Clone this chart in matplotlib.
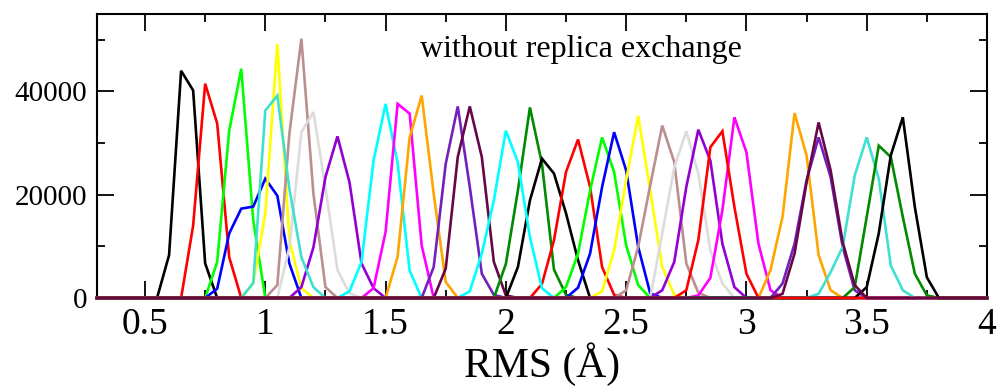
import numpy as np
import matplotlib
matplotlib.use("Agg")
import matplotlib.pyplot as plt
from matplotlib.ticker import MultipleLocator

plt.rcParams['font.family'] = ['Liberation Serif', 'DejaVu Serif']

# histogram bins (RMS in Angstrom), every 0.05
rms_min, rms_max, bin_w = 0.30, 4.00, 0.05

# xmgrace colour cycle
colors = ["#000000", "#ff0000", "#00ff00", "#0000ff", "#ffff00", "#bc8f8f",
          "#dcdcdc", "#9400d3", "#00ffff", "#ff00ff", "#ffa500", "#7221bc",
          "#670748", "#40e0d0", "#008b00"]

# one histogram per replica: first bin position and the counts from there on
starts = [0.55, 0.65, 0.75, 0.75, 0.90, 1.00, 1.05, 1.10, 1.30, 1.40, 1.50,
          1.65, 1.70, 0.90, 1.95, 2.00, 2.10, 2.20, 2.25, 2.35, 2.45, 2.60,
          2.60, 1.80, 2.75, 3.05, 3.10, 3.10, 3.25, 3.40, 3.45, 2.70]

h01 = [0, 8300, 44000, 40200, 6700, 0]
h02 = [0, 14000, 41500, 33800, 7900, 0]
h03 = [0, 7000, 32400, 44400, 15000, 0]
h04 = [0, 1800, 12500, 17300, 17700, 23100, 19800, 6700, 0]
h05 = [0, 2900, 16400, 49200, 11200, 1900, 0]
h06 = [0, 2500, 31800, 50200, 20200, 2100, 0]
h07 = [0, 9800, 32100, 36000, 21400, 5400, 900, 0]
h08 = [0, 2100, 9800, 23400, 31300, 22400, 6700, 1900, 0]
h09 = [0, 1300, 7000, 26600, 37600, 26100, 5300, 0]
h10 = [0, 1900, 12800, 37600, 35700, 10200, 0]
h11 = [0, 8000, 31100, 39200, 20200, 3100, 0]
h12 = [0, 6000, 26000, 37100, 21500, 4700, 600, 0]
h13 = [0, 5700, 27300, 37100, 27300, 7000, 500, 0]
h14 = [0, 2900, 36300, 39200, 21200, 7900, 2100, 0]
h15 = [0, 6600, 20800, 36900, 26000, 5500, 600, 0]
h16 = [0, 6000, 18900, 27000, 24100, 16400, 7300, 0]
h17 = [0, 2700, 11200, 24400, 30700, 21500, 6000, 600, 0]
h18 = [0, 2100, 8600, 20800, 31100, 24400, 10200, 2500, 0]
h19 = [0, 2000, 8600, 21500, 32100, 24700, 9900, 900, 0]
h20 = [0, 1300, 9200, 22800, 35300, 20800, 6000, 600, 0]
h21 = [0, 1500, 9900, 21800, 33400, 26300, 6700, 1000, 0]
h22 = [0, 12500, 25300, 32300, 24100, 9200, 2800, 0]
h23 = [0, 1500, 7000, 21500, 32600, 26600, 10500, 2100, 0]
h24 = [0, 1300, 8600, 18900, 32400, 26300, 11800, 1900, 0]
h25 = [0, 500, 3900, 17000, 35000, 28200, 10500, 1500, 0]
h26 = [0, 5400, 15700, 35800, 27600, 8300, 1500, 0]
h27 = [0, 2800, 10500, 22800, 31100, 23400, 9900, 1500, 0]
h28 = [0, 800, 8600, 22400, 34000, 24700, 10800, 2500, 0]
h29 = [0, 800, 5000, 9900, 23700, 31100, 23100, 6300, 1500, 0]
h30 = [0, 2100, 15700, 29500, 27300, 15700, 4700, 500, 0]
h31 = [0, 2100, 12500, 27600, 35000, 17600, 4000, 0]
h32 = [0, 1500, 11200, 29200, 32300, 17600, 4700, 0]

hists = [h01, h02, h03, h04, h05, h06, h07, h08, h09, h10, h11, h12, h13, h14,
         h15, h16, h17, h18, h19, h20, h21, h22, h23, h24, h25, h26, h27, h28,
         h29, h30, h31, h32]

x_ticks = [0.5, 1, 1.5, 2, 2.5, 3, 3.5, 4]
x_labels = ["0.5", "1", "1.5", "2", "2.5", "3", "3.5", "4"]
y_ticks = [0, 20000, 40000]

rms = np.round(np.arange(rms_min, rms_max + bin_w / 2, bin_w), 2)

fig = plt.figure(figsize=(9.99, 3.88), dpi=100)
ax = fig.add_axes([0.097, 0.232, 0.891, 0.732])

# maroon one last so the zero line looks like in the original
order = [i for i in range(len(hists)) if i != 27] + [27]
for i in order:
    counts = np.zeros(len(rms))
    k = int(round((starts[i] - rms_min) / bin_w))
    counts[k:k + len(hists[i])] = hists[i]
    ax.plot(rms, counts, color=colors[i % len(colors)], lw=1.9,
            solid_joinstyle="miter", clip_on=False, zorder=3)

ax.set_xlim(rms_min, rms_max)
ax.set_ylim(0, 55000)
ax.set_xticks(x_ticks)
ax.set_xticklabels(x_labels)
ax.set_yticks(y_ticks)
ax.xaxis.set_minor_locator(MultipleLocator(0.25))
ax.yaxis.set_minor_locator(MultipleLocator(10000))
ax.tick_params(which="both", direction="in", top=True, right=True, width=1.3)
ax.tick_params(which="major", length=12)
ax.tick_params(which="minor", length=6)
ax.tick_params(axis="x", labelsize=27, pad=7)
ax.tick_params(axis="y", labelsize=21, pad=7)
for s in ax.spines.values():
    s.set_linewidth(1.5)

ax.set_xlabel("RMS (Å)", fontsize=30, labelpad=0)
ax.text(0.544, 0.849, "without replica exchange", transform=ax.transAxes,
        ha="center", va="baseline", fontsize=23)

fig.savefig("out.png", dpi=100)
